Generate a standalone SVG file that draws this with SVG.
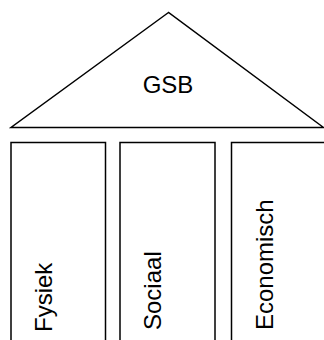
<svg xmlns="http://www.w3.org/2000/svg" width="324" height="340" viewBox="0 0 324 340">
<style>
.s{fill:#fff;stroke:#000;stroke-width:1.5}
.t{font-family:"Liberation Sans",Arial,sans-serif;font-size:24px;fill:#000}
</style>
<rect width="324" height="340" fill="#fff"/>
<g id="roof">
<polygon class="s" points="168.5,12.5 11,127.5 323.5,127.5"/>
<text class="t" x="168" y="93" text-anchor="middle">GSB</text>
</g>
<g id="fysiek">
<rect class="s" x="11" y="142.5" width="94.5" height="210"/>
<text class="t" transform="translate(52,332) rotate(-90)">Fysiek</text>
</g>
<g id="sociaal">
<rect class="s" x="120" y="142.5" width="95" height="210"/>
<text class="t" transform="translate(161,330) rotate(-90)">Sociaal</text>
</g>
<g id="economisch">
<rect class="s" x="231.5" y="142.5" width="95" height="210"/>
<text class="t" transform="translate(273,330) rotate(-90)">Economisch</text>
</g>
<g id="connectors"/>
</svg>
